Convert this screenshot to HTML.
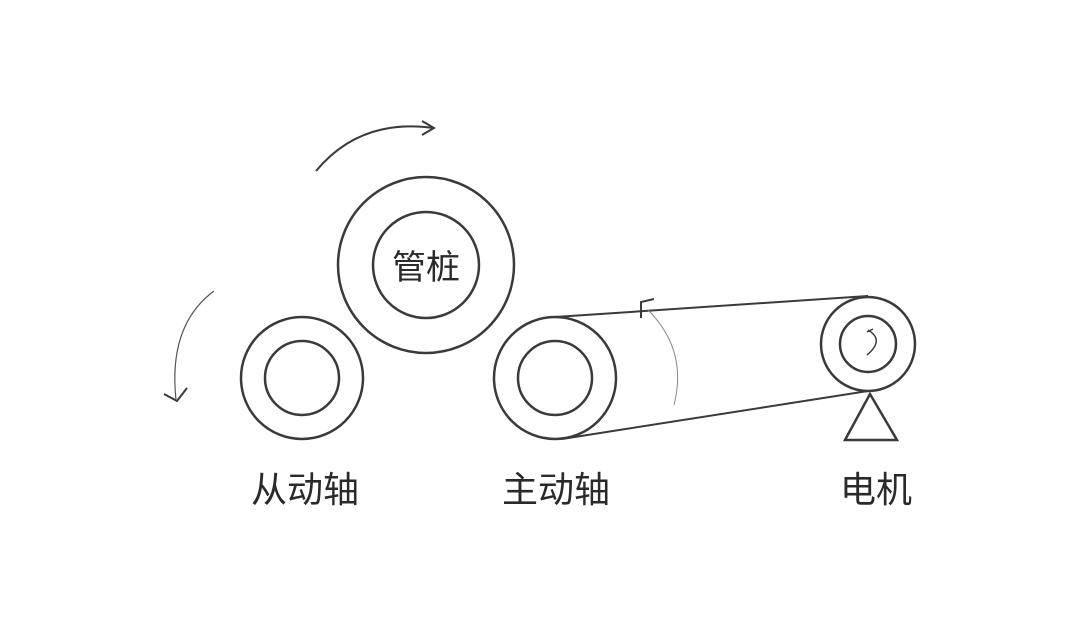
<!DOCTYPE html>
<html><head><meta charset="utf-8"><style>
html,body{margin:0;padding:0;background:#fff;width:1080px;height:642px;overflow:hidden}
</style></head><body>
<svg width="1080" height="642" viewBox="0 0 1080 642" xmlns="http://www.w3.org/2000/svg">
<g fill="none" stroke="#3a3a3a" stroke-width="2.5">
<circle cx="426" cy="265" r="88"/>
<circle cx="426" cy="265" r="53"/>
<circle cx="302" cy="378" r="61"/>
<circle cx="302" cy="378" r="37"/>
<circle cx="555" cy="378" r="61"/>
<circle cx="555" cy="378" r="37"/>
<circle cx="868" cy="344" r="47"/>
<circle cx="868" cy="344" r="28"/>
<path d="M845 440 L870 394 L897 440 Z"/>
</g>
<g fill="none" stroke="#3a3a3a" stroke-width="2">
<line x1="555" y1="317" x2="868" y2="296"/>
<line x1="562" y1="439" x2="868" y2="391"/>
<path d="M316 171 Q360 118 433 128"/>
<path d="M422 121 L434 128 L422 135"/>
<path d="M641 318 L641 302 L654 299"/>
<path d="M867 332 L873 329 M868 330 Q885 340 867 355" stroke-width="1.5"/>
<path d="M164 394 L177 401 L187 388"/>
</g>
<path d="M214 291 Q168 325 176 400" fill="none" stroke="#555" stroke-width="1.2"/>
<path d="M648 310 Q688 350 674 405" fill="none" stroke="#888" stroke-width="1"/>
<g font-family="'Liberation Sans','Noto Sans CJK SC',sans-serif" fill="#2a2a2a" text-anchor="middle">
<text x="426" y="279" font-size="34">管桩</text>
<text x="305" y="502" font-size="36">从动轴</text>
<text x="556" y="502" font-size="36">主动轴</text>
<text x="876" y="502" font-size="36">电机</text>
</g>
</svg>
</body></html>
